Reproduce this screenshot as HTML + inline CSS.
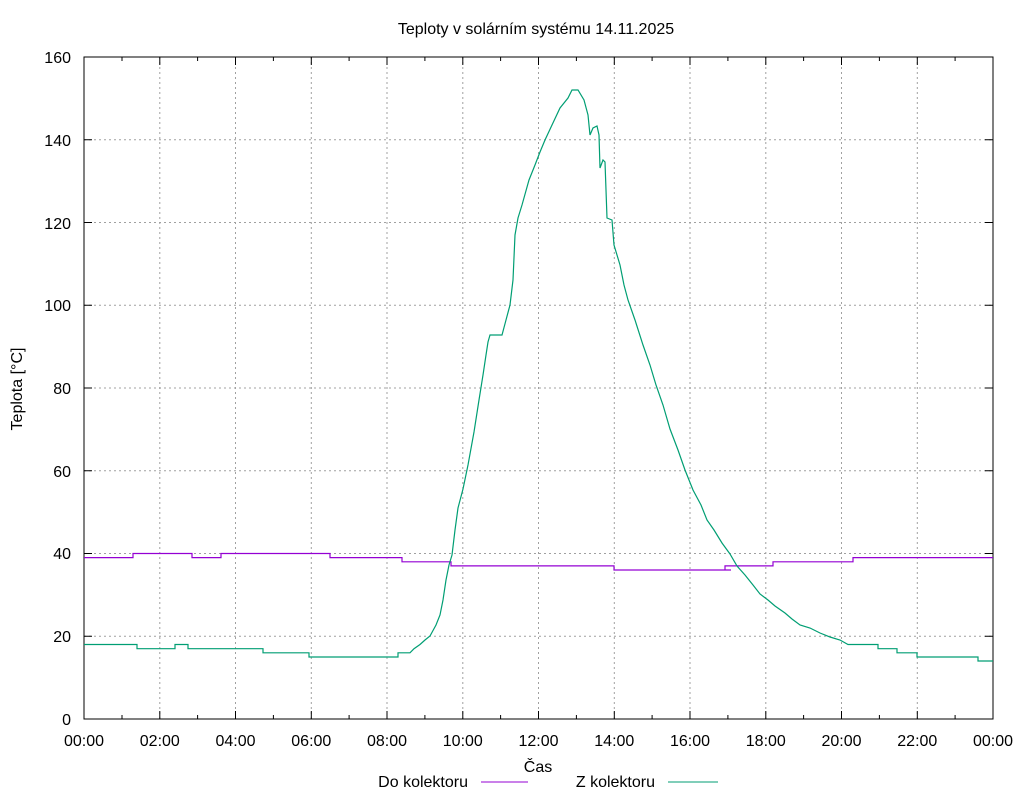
<!DOCTYPE html>
<html><head><meta charset="utf-8"><style>body{margin:0;background:#fff}svg{display:block}text{font-family:"Liberation Sans",sans-serif;font-size:16px;fill:#000}</style></head><body>
<svg width="1024" height="800" xmlns="http://www.w3.org/2000/svg">
<rect width="1024" height="800" fill="#fff"/>
<g stroke="#a0a0a0" stroke-width="1" stroke-dasharray="2,3">
<line x1="84" y1="636.3" x2="993" y2="636.3"/><line x1="84" y1="553.5" x2="993" y2="553.5"/><line x1="84" y1="470.8" x2="993" y2="470.8"/><line x1="84" y1="388" x2="993" y2="388"/><line x1="84" y1="305.3" x2="993" y2="305.3"/><line x1="84" y1="222.5" x2="993" y2="222.5"/><line x1="84" y1="139.8" x2="993" y2="139.8"/>
<line x1="159.8" y1="57" x2="159.8" y2="719"/><line x1="235.5" y1="57" x2="235.5" y2="719"/><line x1="311.3" y1="57" x2="311.3" y2="719"/><line x1="387" y1="57" x2="387" y2="719"/><line x1="462.8" y1="57" x2="462.8" y2="719"/><line x1="538.5" y1="57" x2="538.5" y2="719"/><line x1="614.3" y1="57" x2="614.3" y2="719"/><line x1="690" y1="57" x2="690" y2="719"/><line x1="765.8" y1="57" x2="765.8" y2="719"/><line x1="841.5" y1="57" x2="841.5" y2="719"/><line x1="917.3" y1="57" x2="917.3" y2="719"/>
</g>
<rect x="84" y="57" width="909" height="662" fill="none" stroke="#000"/>
<g stroke="#000">
<path d="M84 636.3h8M84 553.5h8M84 470.8h8M84 388h8M84 305.3h8M84 222.5h8M84 139.8h8M993 636.3h-8M993 553.5h-8M993 470.8h-8M993 388h-8M993 305.3h-8M993 222.5h-8M993 139.8h-8"/>
<path d="M122 719v-4M159.8 719v-8M197.6 719v-4M235.5 719v-8M273.4 719v-4M311.3 719v-8M349.1 719v-4M387 719v-8M424.9 719v-4M462.8 719v-8M500.6 719v-4M538.5 719v-8M576.4 719v-4M614.3 719v-8M652.1 719v-4M690 719v-8M727.9 719v-4M765.8 719v-8M803.6 719v-4M841.5 719v-8M879.4 719v-4M917.3 719v-8M955.1 719v-4M122 57v4M159.8 57v8M197.6 57v4M235.5 57v8M273.4 57v4M311.3 57v8M349.1 57v4M387 57v8M424.9 57v4M462.8 57v8M500.6 57v4M538.5 57v8M576.4 57v4M614.3 57v8M652.1 57v4M690 57v8M727.9 57v4M765.8 57v8M803.6 57v4M841.5 57v8M879.4 57v4M917.3 57v8M955.1 57v4"/>
</g>
<g text-anchor="end">
<text x="71" y="725">0</text><text x="71" y="642">20</text><text x="71" y="559">40</text><text x="71" y="477">60</text><text x="71" y="394">80</text><text x="71" y="311">100</text><text x="71" y="229">120</text><text x="71" y="146">140</text><text x="71" y="63">160</text>
</g>
<g text-anchor="middle">
<text x="84" y="746">00:00</text><text x="159.8" y="746">02:00</text><text x="235.5" y="746">04:00</text><text x="311.3" y="746">06:00</text><text x="387" y="746">08:00</text><text x="462.8" y="746">10:00</text><text x="538.5" y="746">12:00</text><text x="614.3" y="746">14:00</text><text x="690" y="746">16:00</text><text x="765.8" y="746">18:00</text><text x="841.5" y="746">20:00</text><text x="917.3" y="746">22:00</text><text x="993" y="746">00:00</text>
<text x="536" y="34">Teploty v solárním systému 14.11.2025</text>
<text x="538" y="772">Čas</text>
<text transform="translate(22,389) rotate(-90)">Teplota [°C]</text>
</g>
<text x="468" y="787" text-anchor="end">Do kolektoru</text>
<line x1="481" y1="782" x2="528" y2="782" stroke="#9400d3"/>
<text x="655" y="787" text-anchor="end">Z kolektoru</text>
<line x1="668" y1="782" x2="718" y2="782" stroke="#009e73"/>
<polyline fill="none" stroke="#9400d3" stroke-width="1.2" points="84,557.6 133,557.6 133,553.5 192,553.5 192,557.6 221,557.6 221,553.5 330,553.5 330,557.6 402,557.6 402,561.8 451,561.8 451,565.9 596,565.9 614,565.9 614,570 731,570 725,570 725,565.9 773,565.9 773,561.8 853,561.8 853,557.6 993,557.6"/>
<polyline fill="none" stroke="#009e73" stroke-width="1.2" points="84,644.5 137,644.5 137,648.7 175,648.7 175,644.5 188,644.5 188,648.7 263,648.7 263,652.8 309,652.8 309,657 398,657 398,652.8 410,652.8 414,648.7 420,644.5 425,640 430,636 436,625 440,615 443,600 446,580 449,565 452,555 455,530 458,508 463,489 468,465 474,432 479,400 483,375 486,355 488,342 490,335 502,335 506,320 510,305 513,280 515,235 518,218 522,205 529,180 535,165 540,152 545,140 552,125 560,108 568,98 572,90 578,90 584,100 588,115 590,135 593,128 597,126 599,135 600,168 603,160 605,162 607,218 612,220 614,245 620,265 624,285 628,300 635,320 643,345 650,365 656,385 663,405 670,429 678,450 685,470 693,490 701,505 707,520 714,530 722,543 730,554 737,566 745,575 753,585 760,594 768,600 775,606 785,613 792,619 800,625 810,628 820,633 830,637 840,640 848,644.5 878,644.5 878,648.7 897,648.7 897,652.8 917,652.8 917,657 978,657 978,661 993,661"/>
</svg>
</body></html>
